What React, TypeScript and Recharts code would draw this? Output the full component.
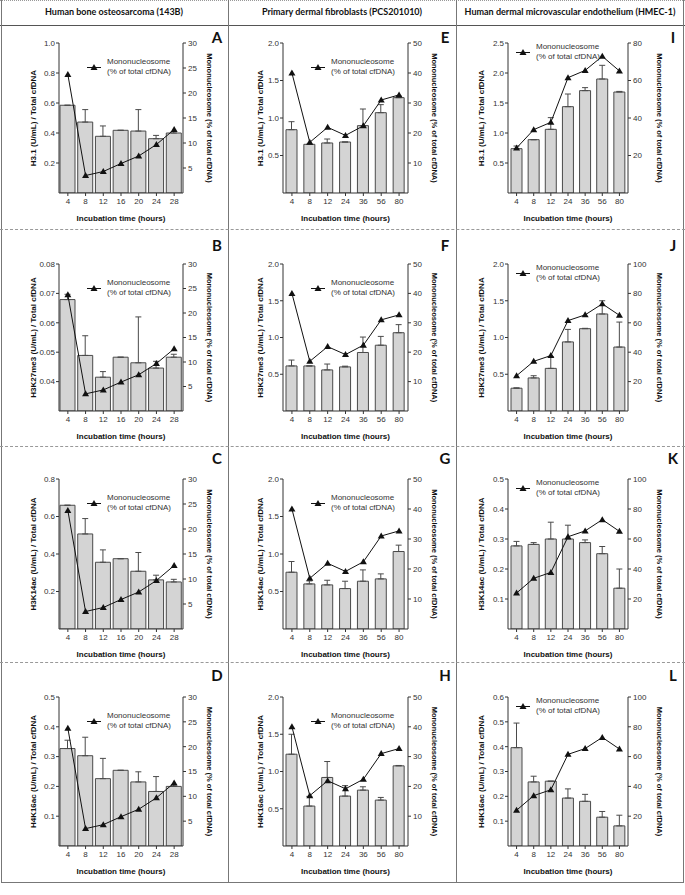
import { ComposedChart, Bar, Line, XAxis, YAxis, ErrorBar, Legend } from 'recharts'

const FONT = '"Liberation Sans", Arial, sans-serif'
const HEAD_FONT = 'Lato, "Open Sans", sans-serif'

// incubation times (h)
const HOURS_143B = ['4', '8', '12', '16', '20', '24', '28']
const HOURS_PRIM = ['4', '8', '12', '24', '36', '56', '80']

// mononucleosome, % of total cfDNA (same curve in every panel of a cell line)
const MONO_143B = [23.7, 3.5, 4.3, 5.9, 7.4, 9.7, 12.7]
const MONO_PCS = [40, 16.9, 21.9, 19.2, 22.4, 31, 32.7]
const MONO_HMEC = [24, 33.8, 37.7, 61.5, 65.4, 72.9, 65.1]

// H3.1
const H31_143B = [0.585, 0.473, 0.378, 0.418, 0.413, 0.362, 0.4]
const H31_143B_SD = [0, 0.083, 0.069, 0, 0.143, 0.022, 0.01]
const H31_PCS = [0.844, 0.649, 0.667, 0.68, 0.898, 1.071, 1.271]
const H31_PCS_SD = [0.107, 0, 0.053, 0, 0.222, 0.107, 0.02]
const H31_HMEC = [0.739, 0.889, 1.061, 1.439, 1.706, 1.9, 1.683]
const H31_HMEC_SD = [0.044, 0, 0.195, 0.211, 0.05, 0.228, 0.01]

// H3K27me3
const K27_143B = [0.0679, 0.0489, 0.0415, 0.0483, 0.0464, 0.0446, 0.0483]
const K27_143B_SD = [0.0018, 0.0067, 0.0019, 0, 0.0156, 0.0023, 0.001]
const K27_PCS = [0.613, 0.613, 0.559, 0.6, 0.796, 0.895, 1.065]
const K27_PCS_SD = [0.08, 0, 0.08, 0.01, 0.21, 0.12, 0.11]
const K27_HMEC = [0.31, 0.45, 0.58, 0.94, 1.12, 1.32, 0.87]
const K27_HMEC_SD = [0.005, 0.03, 0.16, 0.17, 0.005, 0.18, 0.34]

// H3K14ac
const K14_143B = [0.66, 0.507, 0.356, 0.375, 0.308, 0.262, 0.251]
const K14_143B_SD = [0, 0.082, 0.066, 0, 0.1, 0.025, 0.014]
const K14_PCS = [0.757, 0.601, 0.588, 0.539, 0.637, 0.668, 1.033]
const K14_PCS_SD = [0.143, 0.04, 0.062, 0.098, 0.151, 0.067, 0.085]
const K14_HMEC = [0.277, 0.282, 0.3, 0.3, 0.288, 0.251, 0.136]
const K14_HMEC_SD = [0.015, 0.006, 0.056, 0.046, 0.009, 0.024, 0.064]

// H4K16ac
const K16_143B = [0.327, 0.303, 0.226, 0.254, 0.215, 0.183, 0.2]
const K16_143B_SD = [0.028, 0.062, 0.068, 0, 0.034, 0.05, 0.005]
const K16_PCS = [1.232, 0.536, 0.92, 0.67, 0.75, 0.616, 1.076]
const K16_PCS_SD = [0.268, 0.13, 0.214, 0.14, 0.045, 0.036, 0.005]
const K16_HMEC = [0.396, 0.258, 0.261, 0.193, 0.18, 0.116, 0.081]
const K16_HMEC_SD = [0.099, 0.023, 0, 0.037, 0.028, 0.023, 0.043]

const COL_TITLES = [
  'Human bone osteosarcoma (143B)',
  'Primary dermal fibroblasts (PCS201010)',
  'Human dermal microvascular endothelium (HMEC-1)',
]
const Y_LABELS = [
  'H3.1 (U/mL) / Total cfDNA',
  'H3K27me3 (U/mL) / Total cfDNA',
  'H3K14ac (U/mL) / Total cfDNA',
  'H4K16ac (U/mL) / Total cfDNA',
]

// layout of plot areas on the page
const COL_LEFT = [59, 283, 508]
const COL_RIGHT = [183, 408, 628]
const ROW_TOP = [43, 264, 479, 697]
const ROW_H = [150, 147, 150, 149]
const LW = [52, 46, 54]
const RW = [54, 54, 64]
const TOPM = 20
const XH = 30
const BAR_W = [15, 11, 11]
const LETTER_X = [217, 445, 673]
const LETTER_Y = [37, 245, 458, 675]

type PanelDef = {
  letter: string
  col: number
  row: number
  hours: string[]
  vals: number[]
  sd: number[]
  mono: number[]
  yDomain: [number, number]
  yTicks: number[]
  digits: number
  rDomain: [number, number]
  rTicks: number[]
}

const R143 = { rDomain: [0, 30] as [number, number], rTicks: [5, 10, 15, 20, 25, 30] }
const RPCS = { rDomain: [0, 50] as [number, number], rTicks: [10, 20, 30, 40, 50] }
const RH80 = { rDomain: [0, 80] as [number, number], rTicks: [20, 40, 60, 80] }
const RH100 = { rDomain: [0, 100] as [number, number], rTicks: [20, 40, 60, 80, 100] }
const T2 = [0.5, 1.0, 1.5, 2.0]

const PANELS: PanelDef[] = [
  { letter: 'A', col: 0, row: 0, hours: HOURS_143B, vals: H31_143B, sd: H31_143B_SD, mono: MONO_143B, yDomain: [0, 1], yTicks: [0.2, 0.4, 0.6, 0.8, 1.0], digits: 1, ...R143 },
  { letter: 'B', col: 0, row: 1, hours: HOURS_143B, vals: K27_143B, sd: K27_143B_SD, mono: MONO_143B, yDomain: [0.03, 0.08], yTicks: [0.04, 0.05, 0.06, 0.07, 0.08], digits: 2, ...R143 },
  { letter: 'C', col: 0, row: 2, hours: HOURS_143B, vals: K14_143B, sd: K14_143B_SD, mono: MONO_143B, yDomain: [0, 0.8], yTicks: [0.2, 0.4, 0.6, 0.8], digits: 1, ...R143 },
  { letter: 'D', col: 0, row: 3, hours: HOURS_143B, vals: K16_143B, sd: K16_143B_SD, mono: MONO_143B, yDomain: [0, 0.5], yTicks: [0.1, 0.2, 0.3, 0.4, 0.5], digits: 1, ...R143 },
  { letter: 'E', col: 1, row: 0, hours: HOURS_PRIM, vals: H31_PCS, sd: H31_PCS_SD, mono: MONO_PCS, yDomain: [0, 2], yTicks: T2, digits: 1, ...RPCS },
  { letter: 'F', col: 1, row: 1, hours: HOURS_PRIM, vals: K27_PCS, sd: K27_PCS_SD, mono: MONO_PCS, yDomain: [0, 2], yTicks: T2, digits: 1, ...RPCS },
  { letter: 'G', col: 1, row: 2, hours: HOURS_PRIM, vals: K14_PCS, sd: K14_PCS_SD, mono: MONO_PCS, yDomain: [0, 2], yTicks: T2, digits: 1, ...RPCS },
  { letter: 'H', col: 1, row: 3, hours: HOURS_PRIM, vals: K16_PCS, sd: K16_PCS_SD, mono: MONO_PCS, yDomain: [0, 2], yTicks: T2, digits: 1, ...RPCS },
  { letter: 'I', col: 2, row: 0, hours: HOURS_PRIM, vals: H31_HMEC, sd: H31_HMEC_SD, mono: MONO_HMEC, yDomain: [0, 2.5], yTicks: [0.5, 1.0, 1.5, 2.0, 2.5], digits: 1, ...RH80 },
  { letter: 'J', col: 2, row: 1, hours: HOURS_PRIM, vals: K27_HMEC, sd: K27_HMEC_SD, mono: MONO_HMEC, yDomain: [0, 2], yTicks: T2, digits: 1, ...RH100 },
  { letter: 'K', col: 2, row: 2, hours: HOURS_PRIM, vals: K14_HMEC, sd: K14_HMEC_SD, mono: MONO_HMEC, yDomain: [0, 0.5], yTicks: [0.1, 0.2, 0.3, 0.4, 0.5], digits: 1, ...RH100 },
  { letter: 'L', col: 2, row: 3, hours: HOURS_PRIM, vals: K16_HMEC, sd: K16_HMEC_SD, mono: MONO_HMEC, yDomain: [0, 0.6], yTicks: [0.1, 0.2, 0.3, 0.4, 0.5, 0.6], digits: 1, ...RH100 },
]

function Tri(props: any) {
  const { cx, cy } = props
  if (cx == null || cy == null) return null
  return <path d={`M${cx},${cy - 3.5}L${cx + 3.5},${cy + 2.5}L${cx - 3.5},${cy + 2.5}Z`} fill="#111" />
}

function MonoLegend() {
  return (
    <div style={{ display: 'flex', alignItems: 'center', fontFamily: FONT, fontSize: 8, color: '#333', lineHeight: '10px', whiteSpace: 'nowrap' }}>
      <svg width={14} height={8} style={{ display: 'block' }}>
        <line x1={0} y1={4.5} x2={14} y2={4.5} stroke="#111" strokeWidth={1} />
        <path d="M7,1L10.5,7L3.5,7Z" fill="#111" />
      </svg>
      <div style={{ marginLeft: 6 }}>
        Mononucleosome
        <br />
        (% of total cfDNA)
      </div>
    </div>
  )
}

const tickStyle = { fontSize: 8, fill: '#333', fontFamily: FONT }
const titleStyle = { fontSize: 8, fontWeight: 'bold', fill: '#111', fontFamily: FONT }

function Panel({ p }: { p: PanelDef }) {
  const c = p.col
  const r = p.row
  const plotW = COL_RIGHT[c] - COL_LEFT[c]
  const W = plotW + LW[c] + RW[c]
  const H = TOPM + ROW_H[r] + XH
  const data = p.hours.map((h, i) => ({ h, v: p.vals[i], err: [0, p.sd[i]], m: p.mono[i] }))
  const legLeft = c === 2 ? LW[c] + 8 : LW[c] + 28
  const legTop = c === 2 ? TOPM - 1 : TOPM + 14

  return (
    <div style={{ position: 'absolute', left: COL_LEFT[c] - LW[c], top: ROW_TOP[r] - TOPM }}>
      <ComposedChart width={W} height={H} data={data} margin={{ top: TOPM, right: 0, bottom: 0, left: 0 }}>
        <XAxis
          dataKey="h"
          interval={0}
          height={XH}
          tickSize={3}
          tickMargin={2}
          stroke="#333"
          tick={tickStyle}
          label={{ value: 'Incubation time (hours)', position: 'insideBottom', offset: 2, ...titleStyle }}
        />
        <YAxis
          yAxisId="l"
          orientation="left"
          width={LW[c]}
          domain={p.yDomain}
          ticks={p.yTicks}
          allowDataOverflow
          tickFormatter={(v: number) => v.toFixed(p.digits)}
          tickSize={3}
          tickMargin={1}
          stroke="#333"
          tick={tickStyle}
          label={{ value: Y_LABELS[r], angle: -90, position: 'center', ...titleStyle }}
        />
        <YAxis
          yAxisId="r"
          orientation="right"
          width={RW[c]}
          domain={p.rDomain}
          ticks={p.rTicks}
          allowDataOverflow
          tickSize={3}
          tickMargin={2}
          stroke="#333"
          tick={tickStyle}
          label={{ value: 'Mononucleosome (% of total cfDNA)', angle: 90, position: 'center', ...titleStyle, fontSize: 7.5 }}
        />
        <Legend
          layout="horizontal"
          verticalAlign="middle"
          align="center"
          content={() => <MonoLegend />}
          wrapperStyle={{ left: legLeft, top: legTop, width: 'auto', height: 'auto' }}
        />
        <Bar yAxisId="l" dataKey="v" barSize={BAR_W[c]} fill="#d4d4d4" stroke="#4a4a4a" strokeWidth={1} isAnimationActive={false}>
          <ErrorBar dataKey="err" width={3} stroke="#4a4a4a" strokeWidth={1} direction="y" />
        </Bar>
        <Line
          yAxisId="r"
          dataKey="m"
          stroke="#111"
          strokeWidth={1}
          dot={(d: any) => <Tri key={d.index} {...d} />}
          activeDot={false}
          isAnimationActive={false}
        />
      </ComposedChart>
    </div>
  )
}

const line = (s: React.CSSProperties) => <div style={{ position: 'absolute', ...s }} />

export default function App() {
  return (
    <div style={{ position: 'absolute', left: 0, top: 0, width: 685, height: 895, background: '#fff', overflow: 'hidden' }}>
      {/* table frame */}
      {line({ left: 0, top: 0, width: 685, height: 0, borderTop: '1px dotted #999' })}
      {line({ left: 0, top: 25, width: 685, height: 0, borderTop: '1px solid #555' })}
      {line({ left: 1, top: 0, width: 0, height: 882, borderLeft: '1px solid #777' })}
      {line({ left: 228, top: 0, width: 0, height: 882, borderLeft: '1px solid #777' })}
      {line({ left: 456, top: 0, width: 0, height: 882, borderLeft: '1px solid #777' })}
      {line({ left: 683, top: 0, width: 0, height: 882, borderLeft: '1px solid #777' })}
      {line({ left: 0, top: 229, width: 685, height: 0, borderTop: '1px dashed #999' })}
      {line({ left: 0, top: 446, width: 685, height: 0, borderTop: '1px dashed #999' })}
      {line({ left: 0, top: 662, width: 685, height: 0, borderTop: '1px dashed #999' })}
      {line({ left: 1, top: 882, width: 683, height: 0, borderTop: '1px solid #777' })}

      {COL_TITLES.map((t, i) => (
        <div
          key={t}
          style={{ position: 'absolute', left: i * 228, top: 6, width: 228, textAlign: 'center', fontFamily: HEAD_FONT, fontWeight: 700, fontSize: 9, color: '#111' }}
        >
          {t}
        </div>
      ))}

      {PANELS.map(p => (
        <Panel key={p.letter} p={p} />
      ))}

      {PANELS.map(p => (
        <div
          key={'l' + p.letter}
          style={{ position: 'absolute', left: LETTER_X[p.col], top: LETTER_Y[p.row], transform: 'translate(-50%, -50%)', fontFamily: HEAD_FONT, fontWeight: 700, fontSize: 15, color: '#111' }}
        >
          {p.letter}
        </div>
      ))}
    </div>
  )
}
